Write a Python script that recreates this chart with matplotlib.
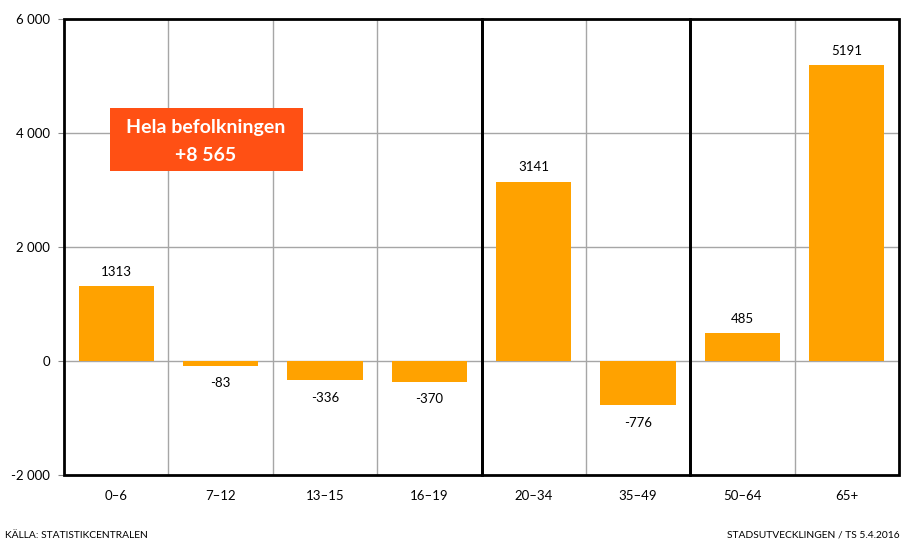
import matplotlib
matplotlib.use("Agg")
import matplotlib.pyplot as plt
from matplotlib.patches import Rectangle

categories = ["0–6", "7–12", "13–15", "16–19", "20–34", "35–49", "50–64", "65+"]
values = [1313, -83, -336, -370, 3141, -776, 485, 5191]
group_bounds = [(0, 3), (4, 5), (6, 7)]
yticks = [-2000, 0, 2000, 4000, 6000]
ytick_labels = ["-2 000", "0", "2 000", "4 000", "6 000"]

plt.rcParams['font.family'] = ['Lato', 'DejaVu Sans']

fig = plt.figure(figsize=(9.01, 5.41), dpi=100)
W, H = 901, 541
ax = fig.add_axes([64 / W, 1 - 475 / H, (899 - 64) / W, (475 - 19) / H])

x = list(range(len(categories)))
ax.bar(x, values, width=0.72, color="#FFA200", zorder=2)

ax.set_xlim(-0.5, len(categories) - 0.5)
ax.set_ylim(-2000, 6000)
ax.set_yticks(yticks)
ax.set_yticklabels(ytick_labels, fontsize=9.5)
ax.set_xticks(x)
ax.set_xticklabels(categories, fontsize=9.5)
ax.tick_params(axis='x', length=0, pad=11)
ax.tick_params(axis='y', length=4, width=0.8, color="#888888", pad=6)

for v in yticks[1:-1]:
    ax.axhline(v, color="#A6A6A6", lw=1, zorder=1)
for i in range(len(categories) - 1):
    ax.axvline(i + 0.5, color="#A6A6A6", lw=1, zorder=1)

for s in ax.spines.values():
    s.set_visible(False)

for a, b in group_bounds:
    ax.add_patch(Rectangle((a - 0.5, -2000), b - a + 1, 8000, fill=False,
                           edgecolor="black", lw=2, zorder=3, clip_on=False))

for xi, v in zip(x, values):
    if v >= 0:
        ax.text(xi, v + 150, f"{v}", ha="center", va="bottom", fontsize=9.5)
    else:
        ax.text(xi, v - 200, f"{v}", ha="center", va="top", fontsize=9.5)

fig.patches.append(Rectangle((110 / W, 1 - 171 / H), (303 - 110) / W, (171 - 108) / H,
                             transform=fig.transFigure, facecolor="#FF5014",
                             edgecolor="none", zorder=5))
fig.text(206 / W, 1 - 128 / H, "Hela befolkningen", ha="center", va="center",
         color="white", fontsize=14, fontweight="bold", zorder=6)
fig.text(206 / W, 1 - 155 / H, "+8 565", ha="center", va="center",
         color="white", fontsize=14, fontweight="bold", zorder=6)

fig.text(5 / W, 1 - 535 / H, "KÄLLA: STATISTIKCENTRALEN", ha="left", va="center", fontsize=7.4)
fig.text(900 / W, 1 - 535 / H, "STADSUTVECKLINGEN / TS 5.4.2016", ha="right", va="center", fontsize=7.4)

fig.savefig("out.png", dpi=100)
